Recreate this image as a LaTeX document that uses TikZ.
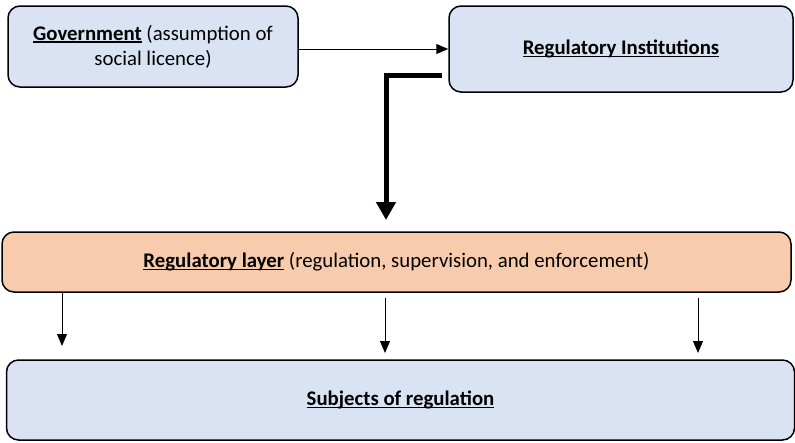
\documentclass[tikz,border=0pt]{standalone}
\usepackage{fontspec}
\setmainfont{Carlito}
\usetikzlibrary{arrows.meta,calc}
\definecolor{boxblue}{HTML}{DAE3F3}
\definecolor{boxorange}{HTML}{F8CBAD}
\newsavebox\myulbox
\newcommand\myul[1]{\sbox\myulbox{#1}\rlap{\rule[-2.6pt]{\wd\myulbox}{1.5pt}}\usebox\myulbox}
\begin{document}
\begin{tikzpicture}[x=1pt,y=-1pt,
  box/.style={draw=black,line width=1.5pt,rounded corners=12pt,inner sep=0pt,
    font=\fontsize{20.8}{25}\selectfont,align=center},
  thinarrow/.style={line width=1pt,-{Triangle[width=10pt,length=12pt]}},
  thickarrow/.style={line width=5pt,-{Triangle[width=19pt,length=18pt]}}]
\useasboundingbox (0,0) rectangle (795,442);
\node[box,fill=boxblue,minimum width=290pt,minimum height=81pt] (gov) at (153,46.5)
  {\myul{\textbf{Government}} (assumption of\\social licence)};
\node[box,fill=boxblue,minimum width=344pt,minimum height=86pt] (ri) at (621,49)
  {\myul{\textbf{Regulatory Institutions}}};
\node[box,fill=boxorange,minimum width=789pt,minimum height=60pt] (reg) at (396.5,262)
  {\myul{\textbf{Regulatory layer}} (regulation, supervision, and enforcement)};
\node[box,fill=boxblue,minimum width=788pt,minimum height=80pt] (sub) at (400.5,400)
  {\myul{\textbf{Subjects of regulation}}};
\draw[thinarrow] (ri.west -| gov.east) -- (ri.west);
\coordinate (t0) at (442,75);
\coordinate (t1) at (386,220);
\draw[thickarrow] (t0) -| (t1);
\coordinate (a0) at (62,292);
\coordinate (a1) at (62,346);
\coordinate (b0) at (385,298);
\coordinate (b1) at (385,353);
\coordinate (c0) at (698,298);
\coordinate (c1) at (698,353);
\draw[thinarrow] (a0) -- (a1);
\draw[thinarrow] (b0) -- (b1);
\draw[thinarrow] (c0) -- (c1);
\end{tikzpicture}
\end{document}
